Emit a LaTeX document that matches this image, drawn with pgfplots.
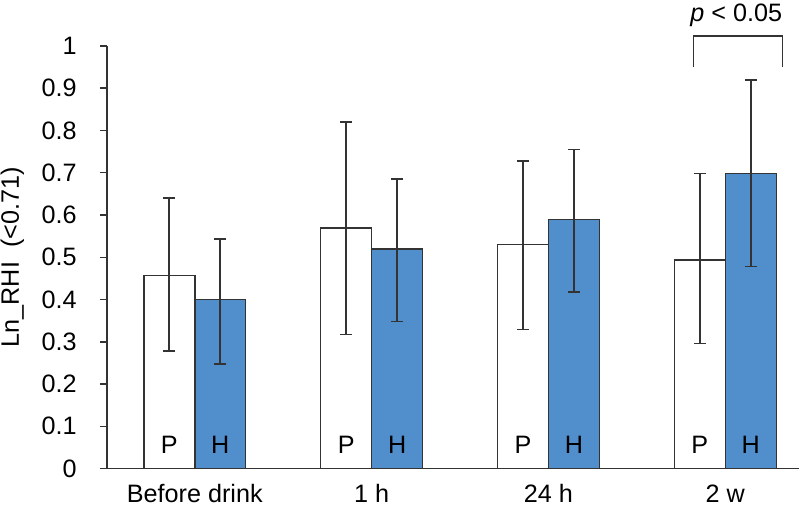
\documentclass[border=0pt]{standalone}
\usepackage{fontspec}
\setmainfont{Liberation Sans}
\usepackage{pgfplots}
\pgfplotsset{compat=1.18}
\usepackage{pgfplotstable}
\definecolor{barblue}{RGB}{80,142,204}
\definecolor{edge}{RGB}{51,51,51}
\pgfplotstableread{
x y ep em
0 0.457 0.184 0.178
1 0.569 0.251 0.252
2 0.530 0.198 0.201
3 0.494 0.204 0.198
}\tP
\pgfplotstableread{
x y ep em
0 0.400 0.144 0.153
1 0.520 0.166 0.172
2 0.589 0.166 0.171
3 0.698 0.222 0.220
}\tH
\newcommand{\fs}{\fontsize{12.6}{15}\selectfont}
\begin{document}
\begin{tikzpicture}
\begin{axis}[
  at={(0,0)}, anchor=south west, scale only axis,
  width=346.5pt, height=211.5pt,
  xmin=-0.497, xmax=3.418, ymin=0, ymax=1,
  axis x line=bottom, axis y line=left,
  axis line style={-, edge, line width=0.75pt},
  clip=false,
  ybar=0pt, bar width=25.5pt,
  xtick={0,1,2,3},
  xticklabels={Before drink,1 h,24 h,2 w},
  x tick style={draw=none},
  ytick={0,0.1,0.2,0.3,0.4,0.5,0.6,0.7,0.8,0.9,1},
  tick align=outside, major tick length=3.5pt,
  y tick style={edge, line width=0.75pt},
  /pgf/number format/assume math mode=true,
  yticklabel style={font=\fs, anchor=east, inner sep=0pt, xshift=-11.5pt},
  xticklabel style={font=\fs, anchor=base, inner sep=0pt, yshift=-13.5pt},
  every axis y label/.style={at={(rel axis cs:0,0.5)}, xshift=-47.3pt, rotate=90, anchor=center, inner sep=0pt, font=\fs},
  ylabel={Ln\_RHI\ \ (<0.71)},
]
\addplot[draw=edge, fill=white, line width=0.75pt,
  error bars/.cd, y dir=both, y explicit,
  error bar style={edge, line width=0.9pt},
  error mark options={rotate=90, edge, line width=0.9pt, mark size=3pt}]
  table[x=x, y=y, y error plus=ep, y error minus=em] {\tP};
\addplot[draw=edge, fill=barblue, line width=0.75pt,
  error bars/.cd, y dir=both, y explicit,
  error bar style={edge, line width=0.9pt},
  error mark options={rotate=90, edge, line width=0.9pt, mark size=3pt}]
  table[x=x, y=y, y error plus=ep, y error minus=em] {\tH};
\node[font=\fs, anchor=base, inner sep=0pt] at ([xshift=-12.75pt, yshift=7.5pt]axis cs:0,0) {P};
\node[font=\fs, anchor=base, inner sep=0pt] at ([xshift=12.75pt, yshift=7.5pt]axis cs:0,0) {H};
\node[font=\fs, anchor=base, inner sep=0pt] at ([xshift=-12.75pt, yshift=7.5pt]axis cs:1,0) {P};
\node[font=\fs, anchor=base, inner sep=0pt] at ([xshift=12.75pt, yshift=7.5pt]axis cs:1,0) {H};
\node[font=\fs, anchor=base, inner sep=0pt] at ([xshift=-12.75pt, yshift=7.5pt]axis cs:2,0) {P};
\node[font=\fs, anchor=base, inner sep=0pt] at ([xshift=12.75pt, yshift=7.5pt]axis cs:2,0) {H};
\node[font=\fs, anchor=base, inner sep=0pt] at ([xshift=-12.75pt, yshift=7.5pt]axis cs:3,0) {P};
\node[font=\fs, anchor=base, inner sep=0pt] at ([xshift=12.75pt, yshift=7.5pt]axis cs:3,0) {H};
\draw[edge, line width=0.75pt] (axis cs:2.819,0.950) |- (axis cs:3.322,1.024) -- (axis cs:3.322,0.950);
\node[font=\fs, inner sep=0pt] at (axis cs:3.062,1.073) {\textit{p} < 0.05};
\end{axis}
\path (-53.5pt,-20pt) rectangle (346.5pt,234.5pt);
\end{tikzpicture}
\end{document}
